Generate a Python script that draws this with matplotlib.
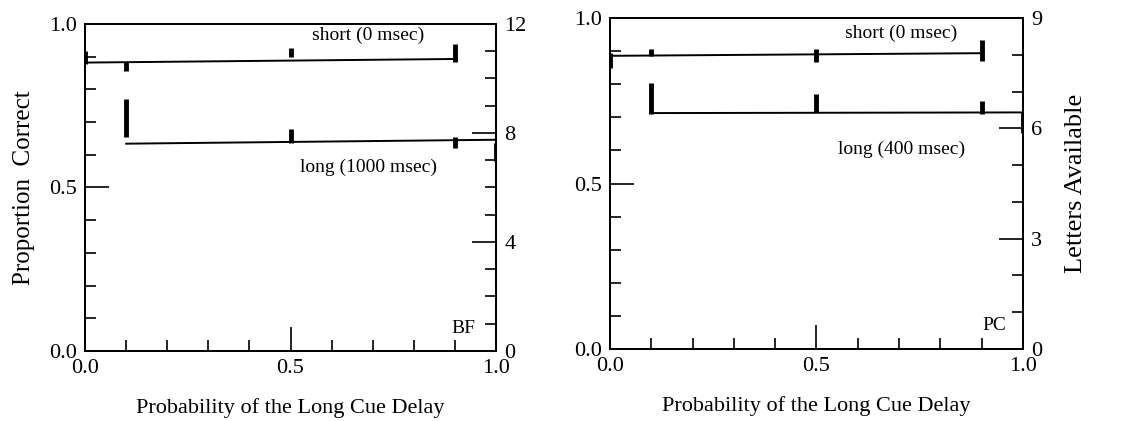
import matplotlib
matplotlib.use("Agg")
import matplotlib.pyplot as plt
from matplotlib.ticker import MultipleLocator

plt.rcParams['font.family'] = ['Liberation Serif', 'DejaVu Serif']

# x positions (probability of the long cue delay)
x_short = [0.0, 0.1, 0.5, 0.9]
x_long = [0.1, 0.5, 0.9, 1.0]

# BF panel
bf_short_line = [0.882, 0.893]
bf_long_line = [0.634, 0.646]
bf_short_lo = [0.878, 0.857, 0.900, 0.883]
bf_short_hi = [0.918, 0.885, 0.928, 0.939]
bf_long_lo = [0.653, 0.635, 0.622, 0.581]
bf_long_hi = [0.770, 0.679, 0.655, 0.635]

# PC panel
pc_short_line = [0.886, 0.894]
pc_long_line = [0.713, 0.715]
pc_short_lo = [0.849, 0.884, 0.867, 0.869]
pc_short_hi = [0.894, 0.906, 0.906, 0.934]
pc_long_lo = [0.710, 0.715, 0.711, 0.652]
pc_long_hi = [0.803, 0.771, 0.748, 0.715]

panels = [
    dict(name="BF", long_txt="long (1000 msec)", right_max=12, right_major=4,
         s_line=bf_short_line, l_line=bf_long_line,
         s_lo=bf_short_lo, s_hi=bf_short_hi, l_lo=bf_long_lo, l_hi=bf_long_hi,
         rect=[0.0746, 0.1663, 0.3605, 0.7767], txt_x=0.69, s_y=0.966, l_y=0.563,
         tag_x=0.92),
    dict(name="PC", long_txt="long (400 msec)", right_max=9, right_major=3,
         s_line=pc_short_line, l_line=pc_long_line,
         s_lo=pc_short_lo, s_hi=pc_short_hi, l_lo=pc_long_lo, l_hi=pc_long_hi,
         rect=[0.535, 0.171, 0.3623, 0.786], txt_x=0.706, s_y=0.955, l_y=0.602,
         tag_x=0.93),
]

fig = plt.figure(figsize=(11.4, 4.21), dpi=100)

for i, p in enumerate(panels):
    ax = fig.add_axes(p["rect"])
    ax.plot([x_short[0], x_short[-1]], p["s_line"], color="black", lw=1.4)
    ax.plot([x_long[0], x_long[-1]], p["l_line"], color="black", lw=1.4)
    ax.vlines(x_short, p["s_lo"], p["s_hi"], color="black", lw=3.5)
    ax.vlines(x_long, p["l_lo"], p["l_hi"], color="black", lw=3.5)

    ax.set_xlim(0, 1)
    ax.set_ylim(0, 1)
    ax.xaxis.set_major_locator(MultipleLocator(0.5))
    ax.xaxis.set_minor_locator(MultipleLocator(0.1))
    ax.yaxis.set_major_locator(MultipleLocator(0.5))
    ax.yaxis.set_minor_locator(MultipleLocator(0.1))
    ax.tick_params(which="both", direction="in", top=False, right=False,
                   width=1.2, labelsize=16)
    ax.tick_params(which="major", length=17, pad=6)
    ax.tick_params(which="minor", length=8)
    ax.set_xticks([0, 0.5, 1.0])
    ax.set_xticklabels(["0.0", "0.5", "1.0"])
    ax.set_yticks([0, 0.5, 1.0])
    ax.set_yticklabels(["0.0", "0.5", "1.0"])
    for s in ax.spines.values():
        s.set_linewidth(1.4)

    ax.text(p["txt_x"], p["s_y"], "short (0 msec)",
            ha="center", va="center", fontsize=14)
    ax.text(p["txt_x"], p["l_y"], p["long_txt"],
            ha="center", va="center", fontsize=14)
    ax.text(p["tag_x"], 0.07, p["name"], ha="center", va="center", fontsize=14)
    ax.set_xlabel("Probability of the Long Cue Delay", fontsize=16, labelpad=14)
    if i == 0:
        ax.set_ylabel("Proportion  Correct", fontsize=18, labelpad=10)

    ax2 = ax.twinx()
    ax2.set_ylim(0, p["right_max"])
    ax2.yaxis.set_major_locator(MultipleLocator(p["right_major"]))
    ax2.yaxis.set_minor_locator(MultipleLocator(1))
    ax2.tick_params(which="both", direction="in", width=1.2, labelsize=16)
    ax2.tick_params(which="major", length=17, pad=6)
    ax2.tick_params(which="minor", length=8)
    for s in ax2.spines.values():
        s.set_linewidth(1.4)
    if i == 1:
        ax2.set_ylabel("Letters Available", fontsize=19, labelpad=16)

fig.savefig("out.png", dpi=100)
